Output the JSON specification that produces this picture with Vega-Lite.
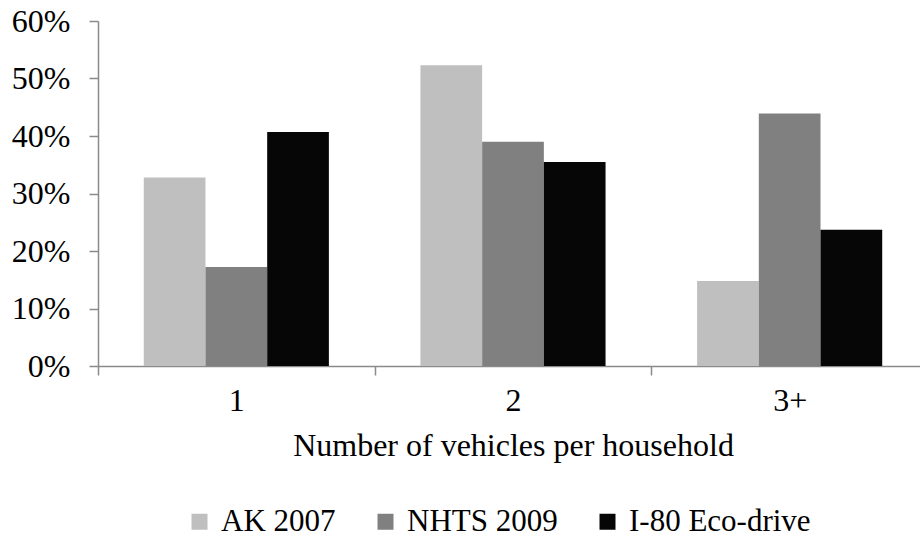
{
  "$schema": "https://vega.github.io/schema/vega-lite/v6.json",
  "width": 830,
  "height": 345,
  "autosize": {"type": "none"},
  "padding": {"left": 98, "top": 21, "right": 0, "bottom": 174},
  "background": "white",
  "config": {
    "view": {"stroke": null},
    "font": "Liberation Serif",
    "axis": {"labelFont": "Liberation Serif", "titleFont": "Liberation Serif", "labelColor": "black", "titleColor": "black", "domainColor": "#8a8a8a", "tickColor": "#8a8a8a", "grid": false},
    "legend": {"labelFont": "Liberation Serif", "labelColor": "black"}
  },
  "data": {
    "values": [
      {"vehicles": "1", "source": "AK 2007", "share": 0.328},
      {"vehicles": "1", "source": "NHTS 2009", "share": 0.172},
      {"vehicles": "1", "source": "I-80 Eco-drive", "share": 0.407},
      {"vehicles": "2", "source": "AK 2007", "share": 0.523},
      {"vehicles": "2", "source": "NHTS 2009", "share": 0.390},
      {"vehicles": "2", "source": "I-80 Eco-drive", "share": 0.355},
      {"vehicles": "3+", "source": "AK 2007", "share": 0.148},
      {"vehicles": "3+", "source": "NHTS 2009", "share": 0.439},
      {"vehicles": "3+", "source": "I-80 Eco-drive", "share": 0.237}
    ]
  },
  "mark": {"type": "bar"},
  "encoding": {
    "x": {
      "field": "vehicles", "type": "nominal", "sort": ["1", "2", "3+"],
      "scale": {"paddingInner": 0, "paddingOuter": 0},
      "axis": {"title": "Number of vehicles per household", "labelAngle": 0, "labelFontSize": 32, "titleFontSize": 32, "titleFontWeight": "normal", "tickBand": "extent", "tickSize": 9, "labelPadding": 10, "titlePadding": 14, "domainWidth": 1.5, "tickWidth": 1.5}
    },
    "xOffset": {"field": "source", "type": "nominal", "sort": ["AK 2007", "NHTS 2009", "I-80 Eco-drive"], "scale": {"paddingInner": 0, "paddingOuter": 0.742}},
    "y": {
      "field": "share", "type": "quantitative",
      "scale": {"domain": [0, 0.6], "nice": false},
      "axis": {"title": null, "format": ".0%", "values": [0, 0.1, 0.2, 0.3, 0.4, 0.5, 0.6], "labelFontSize": 32, "tickSize": 9, "labelPadding": 19, "domainWidth": 1.5, "tickWidth": 1.5}
    },
    "color": {
      "field": "source", "type": "nominal", "sort": ["AK 2007", "NHTS 2009", "I-80 Eco-drive"],
      "scale": {"domain": ["AK 2007", "NHTS 2009", "I-80 Eco-drive"], "range": ["#bfbfbf", "#808080", "#060606"]},
      "legend": {"title": null, "orient": "none", "direction": "horizontal", "legendX": 86, "legendY": 485, "symbolType": "square", "symbolSize": 256, "symbolStrokeWidth": 0, "labelFontSize": 31, "labelLimit": 400, "labelOffset": 6, "columnPadding": 34, "padding": 0}
    }
  }
}
